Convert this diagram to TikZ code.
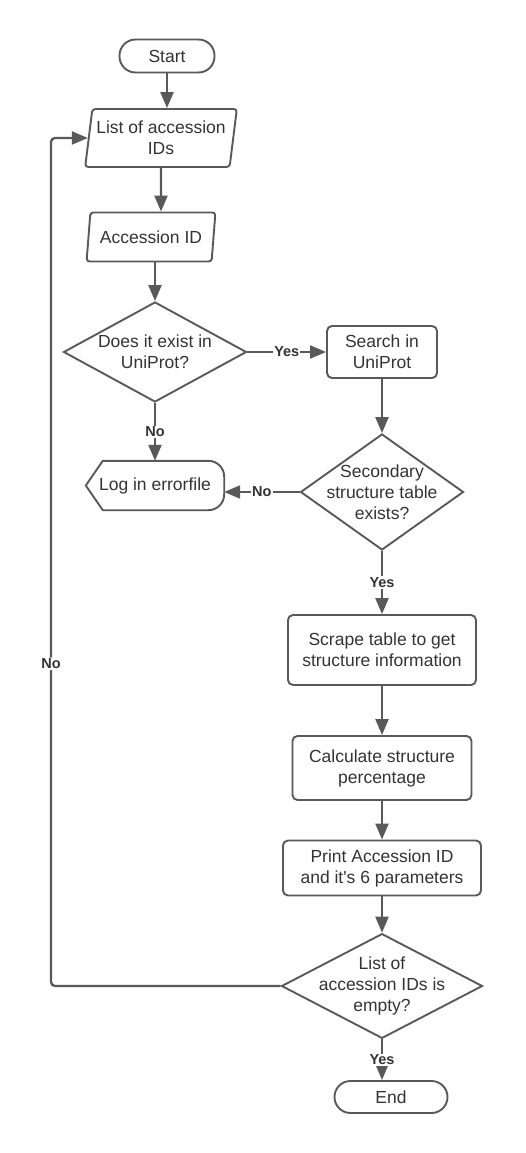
\documentclass[tikz,border=0pt]{standalone}
\usepackage{fontspec}
\setmainfont{Liberation Sans}
\usetikzlibrary{shapes.geometric,arrows.meta}
\definecolor{linegrey}{HTML}{595959}
\definecolor{textgrey}{HTML}{333333}

\begin{document}
\begin{tikzpicture}[x=1pt,y=-1pt,
	every node/.style={text=textgrey,font=\fontsize{17.5}{21}\selectfont,align=center},
	terminal/.style={draw=linegrey,line width=1.9pt,rectangle,rounded corners=16pt,minimum height=33pt},
	process/.style={draw=linegrey,line width=1.9pt,rectangle,rounded corners=5pt},
	data/.style={draw=linegrey,line width=1.9pt,trapezium,trapezium left angle=80,trapezium right angle=100,trapezium stretches=true,rounded corners=3pt},
	decision/.style={draw=linegrey,line width=1.9pt,diamond,inner sep=-20pt},
	flow/.style={linegrey,line width=2.3pt,-{Triangle[length=16pt,width=13pt]}},
	answer/.style={fill=white,inner sep=1pt,font=\fontsize{14.5}{17}\selectfont\bfseries}]
	\useasboundingbox (0,0) rectangle (525,1153);

	\node[terminal,minimum width=95pt] (start) at (167,56) {Start};
	\node[data,minimum width=152pt,minimum height=58pt] (list) at (161,138) {List of accession\\IDs};
	\node[data,minimum width=129pt,minimum height=49pt] (acc) at (151,237) {Accession ID};
	\node[decision,minimum width=183pt,minimum height=100pt] (dec1) at (155,352) {Does it exist in\\UniProt?};
	\node[process,minimum width=110pt,minimum height=52pt] (search) at (382,352) {Search in\\UniProt};
	\node[rectangle,inner sep=0pt,minimum width=138pt,minimum height=49pt] (log) at (155,485.5) {Log in errorfile};
	\node[decision,minimum width=163pt,minimum height=116pt] (dec2) at (382,492) {Secondary\\structure table\\exists?};
	\node[process,minimum width=188pt,minimum height=70pt] (scrape) at (382,650) {Scrape table to get\\structure information};
	\node[process,minimum width=179pt,minimum height=64pt] (calc) at (382,768) {Calculate structure\\percentage};
	\node[process,minimum width=198pt,minimum height=55pt] (print) at (382,868) {Print Accession ID\\and it\textquotesingle s 6 parameters};
	\node[decision,minimum width=201pt,minimum height=98pt] (dec3) at (382,986) {List of\\accession IDs is\\empty?};
	\node[terminal,minimum width=113pt,minimum height=32pt] (end) at (391,1097) {End};
	\coordinate (back) at (51,986);

	\draw[draw=linegrey,line width=1.9pt] (log.west) -- ([xshift=17pt]log.north west) -- ([xshift=-16pt]log.north east)
		.. controls ([xshift=-7pt]log.north east) and ([yshift=-7pt]log.north east) .. ([yshift=-16pt]log.north east)
		-- ([yshift=16pt]log.south east)
		.. controls ([yshift=7pt]log.south east) and ([xshift=-7pt]log.south east) .. ([xshift=-16pt]log.south east)
		-- ([xshift=17pt]log.south west) -- cycle;

	\path [flow](start) edge (start |- list.north);
	\path [flow](list) edge (list |- acc.north);
	\path [flow](dec1.north |- acc.south) edge (dec1.north);
	\path [flow](dec1) edge node[answer] {Yes} (search);
	\path [flow](dec1) edge node[answer] {No} (log);
	\path [flow](search) edge (dec2);
	\path [flow](dec2.west) edge node[answer] {No} (dec2.west -| log.east);
	\path [flow](dec2) edge node[answer] {Yes} (scrape);
	\path [flow](scrape) edge (calc);
	\path [flow](calc) edge (print);
	\path [flow](print) edge (dec3);
	\path [flow](dec3) edge node[answer] {Yes} (dec3 |- end.north);
	\draw [flow,rounded corners=4pt](dec3.west) -- (back) |- node[answer,pos=0.19] {No} (list.west);
\end{tikzpicture}
\end{document}
